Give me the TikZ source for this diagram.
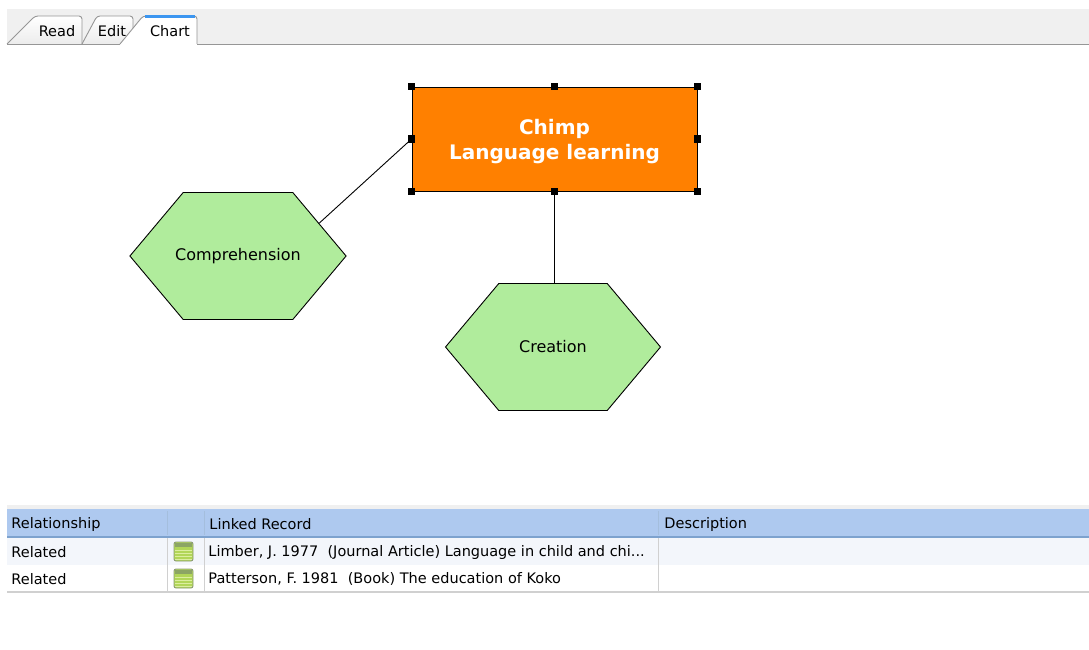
\documentclass[tikz,border=0pt]{standalone}
\usepackage{fontspec}
\setmainfont{DejaVu Sans}
\usetikzlibrary{shapes.symbols}
\definecolor{chimporange}{RGB}{255,128,0}
\definecolor{hexgreen}{RGB}{176,236,156}
\definecolor{headblue}{RGB}{174,201,239}
\definecolor{headline}{RGB}{125,162,206}
\definecolor{rowblue}{RGB}{243,246,251}
\definecolor{bargray}{RGB}{240,240,240}
\definecolor{tabline}{RGB}{150,150,150}
\definecolor{gridgray}{RGB}{208,208,208}
\definecolor{notegreen}{RGB}{178,214,88}
\definecolor{notetop}{RGB}{140,165,100}
\definecolor{noteedge}{RGB}{140,155,120}
\definecolor{notestripe}{RGB}{220,238,160}
\definecolor{tabblue}{RGB}{60,150,240}
\tikzset{
  hexa/.style={signal,signal to=west and east,signal pointer angle=100,draw,fill=hexgreen,
    minimum width=215pt,minimum height=127pt,inner ysep=0pt,inner xsep=-8pt,font=\fontsize{16}{19}\selectfont},
  topic/.style={rectangle,draw,fill=chimporange,minimum width=285pt,minimum height=104pt},
  topictext/.style={text=white,align=center,font=\fontsize{20}{25}\selectfont\bfseries},
  handle/.style={fill=black,minimum size=7pt,inner sep=0pt},
  ui/.style={font=\fontsize{14.5}{17}\selectfont,inner sep=0pt,anchor=west},
  tab/.style={draw=tabline,top color=white,bottom color=gray!15,rounded corners=3pt},
  note/.style={rounded corners=2pt,draw=noteedge,fill=notegreen}
}
\begin{document}
\begin{tikzpicture}[x=1pt,y=-1pt,line width=0.9pt]
	\useasboundingbox (0,0) rectangle (1089,650);
	\fill[white] (0,0) rectangle (1089,650);
	% tab bar
	\fill[bargray] (7,9) rectangle (1089,44);
	\draw[tabline] (7,44) -- (120,44) (197,44) -- (1089,44);
	\draw[tab] (7,44) -- (35,16) -- (82,16) -- (82,44);
	\draw[tab] (82,44) -- (97,16) -- (133,16) -- (133,44);
	\draw[tabline,fill=white,rounded corners=3pt] (120,44) -- (143,16) -- (197,16) -- (197,44);
	\draw[tabblue,line width=3pt] (145,16.5) -- (195,16.5);
	\node[ui,anchor=center] at (57,31) (read) {Read};
	\node[ui,anchor=center] at (112,31) (edit) {Edit};
	\node[ui,anchor=center] at (170,31) (chart) {Chart};
	% chart
	\node[topic] at (554.5,139) (chimp) {};
	\node[topictext] at (554.5,142) (chimptext) {Chimp\\Language learning};
	\node[hexa] at (238,256) (comp) {Comprehension};
	\node[hexa] at (553,347) (crea) {Creation};
	\draw (chimp.west) -- (comp.22);
	\draw (chimp.south) -- (chimp.south |- crea.north);
	\foreach \a/\n in {north west/nw,north/n,north east/ne,east/e,south east/se,south/s,south west/sw,west/w}
		\node[handle] at (chimp.\a) (h\n) {};
	% table
	\fill[bargray] (7,505) rectangle (1089,509);
	\fill[headblue] (7,509) rectangle (1089,537);
	\draw[headline,line width=1.5pt] (7,537) -- (1089,537);
	\fill[rowblue] (7,538) rectangle (1089,565);
	\foreach \x in {167,204,658} {
		\draw[headline!70] (\x,511) -- (\x,535);
		\draw[gridgray] (\x,538) -- (\x,592);
	}
	\draw[gridgray,line width=1.2pt] (7,592) -- (1089,592);
	\node[ui] at (11,524) (hrel) {Relationship};
	\node[ui] at (209,524) (hlink) {Linked Record};
	\node[ui] at (664,524) (hdesc) {Description};
	\foreach \y/\t [count=\i] in {552/{Limber, J. 1977\ \ (Journal Article) Language in child and chi...},579/{Patterson, F. 1981\ \ (Book) The education of Koko}} {
		\node[ui] at (11,\y) (rel\i) {Related};
		\draw[note] (174,\y-10) rectangle (193,\y+9);
		\fill[notetop] (175,\y-9) rectangle (192,\y-5);
		\foreach \k in {-2,1,4,7}
			\draw[notestripe,line width=1pt] (175,\y+\k) -- (192,\y+\k);
		\node[ui] at (208,\y) (rec\i) {\t};
	}
\end{tikzpicture}
\end{document}
